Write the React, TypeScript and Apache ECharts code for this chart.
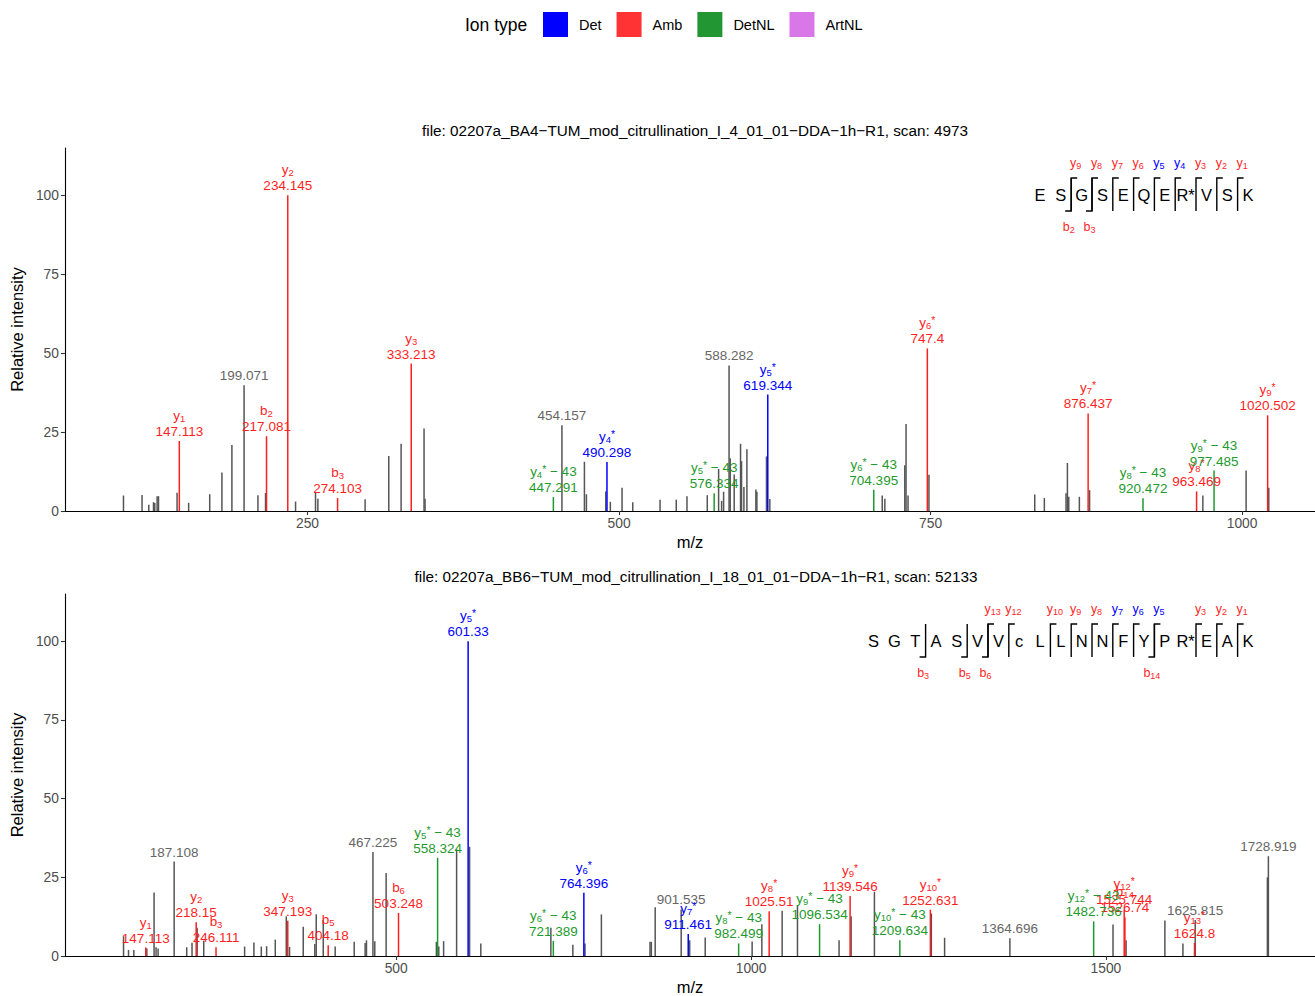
import React, { useEffect, useRef } from "react";
import * as echarts from "echarts";

const FONT = "'Liberation Sans', Arial, Helvetica, sans-serif";

// ---------------- legend / ion types ----------------
const ionTypes = ["Det", "Amb", "DetNL", "ArtNL"];
const ionColors: Record<string, string> = { Det: "#0000FF", Amb: "#FF1F1F", DetNL: "#1E9A2E", ArtNL: "#D977E8" };
const legendColors: Record<string, string> = { Det: "#0000FF", Amb: "#FF3333", DetNL: "#229633", ArtNL: "#D977E8" };
const GRAY_LINE = "#555555";
const GRAY_TEXT = "#666666";

// ---------------- panel 1 ----------------
const topTitle = "file: 02207a_BA4−TUM_mod_citrullination_I_4_01_01−DDA−1h−R1, scan: 4973";
const topXTicks = [250, 500, 750, 1000];
const topIonNames = ["y1", "b2", "y2", "b3", "y3", "y4*−43", "y4*", "y5*−43", "y5*", "y6*−43", "y6*", "y7*", "y8*−43", "y8*", "y9*−43", "y9*"];
const topIonMz = ["147.113", "217.081", "234.145", "274.103", "333.213", "447.291", "490.298", "576.334", "619.344", "704.395", "747.4", "876.437", "920.472", "963.469", "977.485", "1020.502"];
const topIonIntensity = [22.2, 23.7, 100, 4.1, 46.7, 4.4, 15.5, 5.6, 36.9, 6.7, 51.5, 30.9, 4.0, 6.2, 12.8, 30.3];
const topIonType = ["Amb", "Amb", "Amb", "Amb", "Amb", "DetNL", "Det", "DetNL", "Det", "DetNL", "Amb", "Amb", "DetNL", "Amb", "DetNL", "Amb"];
const topLabeledMz = ["199.071", "454.157", "588.282"];
const topLabeledIntensity = [39.8, 27.2, 46.1];
const topOtherMz = [102.3, 117.2, 122.6, 126.4, 127.4, 129.3, 130.4, 145.3, 154.6, 171.5, 181.3, 189.3, 210.2, 216.3, 240.4, 256.4, 258.3, 296.2, 315.2, 325.1, 343.5, 344.3, 472.2, 473.8, 489.3, 493.0, 502.4, 511.0, 532.9, 545.9, 554.5, 570.8, 579.9, 582.3, 583.9, 589.2, 592.4, 597.5, 598.3, 600.2, 602.6, 609.8, 610.6, 618.3, 621.0, 711.2, 713.3, 729.3, 730.3, 731.9, 748.7, 833.6, 841.3, 858.7, 859.8, 860.9, 869.4, 877.6, 968.5, 1003.2, 1021.4];
const topOtherIntensity = [4.9, 5.1, 2.0, 2.8, 2.5, 4.7, 4.7, 5.8, 2.6, 5.3, 12.2, 20.9, 5.0, 5.7, 3.0, 6.0, 3.9, 3.7, 17.4, 21.3, 26.1, 3.9, 15.6, 5.3, 6.2, 2.9, 7.4, 2.8, 3.6, 3.6, 4.7, 5.0, 13.3, 3.2, 6.1, 16.7, 11.6, 21.3, 15.8, 7.6, 19.6, 6.8, 6.1, 17.3, 3.8, 4.9, 3.9, 14.5, 27.6, 4.9, 11.5, 5.2, 4.1, 5.6, 15.2, 4.5, 4.5, 6.6, 4.9, 12.8, 7.4];
const topSequence = ["E", "S", "G", "S", "E", "Q", "E", "R*", "V", "S", "K"];
const topYIons = [9, 8, 7, 6, 5, 4, 3, 2, 1];
const topYIonType = ["Amb", "Amb", "Amb", "Amb", "Det", "Det", "Amb", "Amb", "Amb"];
const topBIons = [2, 3];
const topBIonType = ["Amb", "Amb"];

// ---------------- panel 2 ----------------
const bottomTitle = "file: 02207a_BB6−TUM_mod_citrullination_I_18_01_01−DDA−1h−R1, scan: 52133";
const bottomXTicks = [500, 1000, 1500];
const bottomIonNames = ["y1", "y2", "b3", "y3", "b5", "b6", "y5*−43", "y5*", "y6*−43", "y6*", "y7*", "y8*−43", "y8*", "y9*−43", "y9*", "y10*−43", "y10*", "y12*−43", "y12*", "b14", "y13*"];
const bottomIonMz = ["147.113", "218.15", "246.111", "347.193", "404.18", "503.248", "558.324", "601.33", "721.389", "764.396", "911.461", "982.499", "1025.51", "1096.534", "1139.546", "1209.634", "1252.631", "1482.736", "1525.744", "1526.74", "1624.8"];
const bottomIonIntensity = [2.7, 10.7, 2.8, 11.2, 3.4, 13.7, 31.2, 100, 4.8, 20.1, 7.0, 4.0, 14.2, 10.1, 19.1, 5.0, 14.7, 11.0, 14.8, 12.3, 4.2];
const bottomIonType = ["Amb", "Amb", "Amb", "Amb", "Amb", "Amb", "DetNL", "Det", "DetNL", "Det", "Det", "DetNL", "Amb", "DetNL", "Amb", "DetNL", "Amb", "DetNL", "Amb", "Amb", "Amb"];
const bottomLabeledMz = ["187.108", "467.225", "901.535", "1364.696", "1625.815", "1728.919"];
const bottomLabeledIntensity = [30.0, 33.0, 14.8, 5.6, 11.4, 31.7];
const bottomOtherMz = [115.8, 122.8, 130.3, 148.6, 158.8, 161.6, 164.5, 204.8, 212.3, 219.5, 228.8, 286.4, 299.5, 309.9, 317.4, 329.6, 345.1, 349.7, 369.0, 385.3, 387.3, 397.2, 414.0, 440.8, 456.2, 458.1, 469.8, 485.8, 556.6, 560.0, 566.8, 585.1, 603.4, 619.2, 717.9, 748.9, 766.0, 789.1, 857.6, 859.5, 864.9, 913.5, 935.4, 1001.5, 1015.2, 1043.8, 1065.4, 1124.0, 1141.0, 1173.8, 1254.0, 1272.7, 1510.0, 1528.4, 1583.1, 1608.5, 1727.5];
const bottomOtherIntensity = [6.3, 1.9, 1.9, 2.4, 20.2, 2.8, 2.4, 2.8, 4.2, 9.0, 4.9, 3.0, 4.3, 3.0, 3.1, 5.2, 12.6, 2.9, 9.3, 3.8, 13.3, 11.5, 3.0, 4.5, 4.1, 5.0, 4.7, 26.4, 4.5, 3.0, 4.7, 33.9, 34.7, 4.0, 9.0, 3.6, 4.0, 13.2, 4.5, 4.5, 15.5, 5.0, 5.9, 4.6, 10.1, 14.4, 16.0, 5.0, 12.6, 20.4, 13.5, 5.8, 10.0, 5.0, 11.3, 4.0, 25.0];
const bottomSequence = ["S", "G", "T", "A", "S", "V", "V", "c", "L", "L", "N", "N", "F", "Y", "P", "R*", "E", "A", "K"];
const bottomYIons = [13, 12, 10, 9, 8, 7, 6, 5, 3, 2, 1];
const bottomYIonType = ["Amb", "Amb", "Amb", "Amb", "Amb", "Det", "Det", "Det", "Amb", "Amb", "Amb"];
const bottomBIons = [3, 5, 6, 14];
const bottomBIonType = ["Amb", "Amb", "Amb", "Amb"];

const yTicks = [0, 25, 50, 75, 100];

// ---------------- layout ----------------
const GRID_LEFT = 63;
const GRID_H = 363;
const GRID_TOPS = [148, 594];
const X_RANGES = [
  [55.3, 1058.5],
  [33.2, 1794.6],
];
const PEP_RIGHT = 1248;
const PEP_STEP = 20.8;
const PEP_Y = [195, 641];

function richFor(color: string) {
  return {
    n: { fontSize: 13.5, fontFamily: FONT, lineHeight: 16, fill: color },
    sub: { fontSize: 9.5, fontFamily: FONT, lineHeight: 7, verticalAlign: "bottom", fill: color },
    sup: { fontSize: 10.5, fontFamily: FONT, lineHeight: 8, verticalAlign: "top", fill: color },
  };
}

function ionRich(name: string) {
  const m = name.match(/^([a-z])(\d+)(\*?)(.*)$/);
  if (!m) return `{n|${name}}`;
  let s = `{n|${m[1]}}{sub|${m[2]}}`;
  if (m[3]) s += `{sup|*}`;
  if (m[4]) s += `{n| ${m[4].replace("−", "− ")}}`;
  return s;
}

function peakRenderer(lineColor: string, textColor: string, names: string[] | null, labels: string[] | null) {
  const rich = richFor(textColor);
  return (params: any, api: any) => {
    const x = api.value(0);
    const y = api.value(1);
    const top = api.coord([x, y]);
    const base = api.coord([x, 0]);
    const children: any[] = [
      {
        type: "line",
        shape: { x1: top[0], y1: base[1], x2: top[0], y2: top[1] },
        style: { stroke: lineColor, lineWidth: 1.5 },
      },
    ];
    if (labels) {
      const i = api.value(2);
      const text = names ? ionRich(names[i]) + "\n" + `{n|${labels[i]}}` : `{n|${labels[i]}}`;
      children.push({
        type: "text",
        x: top[0],
        y: top[1] - 1.5,
        z2: 100,
        style: {
          text,
          rich,
          fill: textColor,
          fontSize: 13.5,
          fontFamily: FONT,
          align: "center",
          verticalAlign: "bottom",
        },
      });
    }
    return { type: "group", children };
  };
}

function panelSeries(
  p: number,
  names: string[],
  mzs: string[],
  ints: number[],
  types: string[],
  otherMz: number[],
  otherInt: number[],
  labMz: string[],
  labInt: number[]
) {
  const common = { type: "custom", xAxisIndex: p, yAxisIndex: p, clip: false, silent: true };
  const out: any[] = [];
  out.push({
    ...common,
    name: "other",
    itemStyle: { color: GRAY_LINE },
    data: otherMz.map((m, i) => [m, otherInt[i]]),
    renderItem: peakRenderer(GRAY_LINE, GRAY_TEXT, null, null),
  });
  out.push({
    ...common,
    name: "other labelled",
    itemStyle: { color: GRAY_LINE },
    data: labMz.map((m, i) => [Number(m), labInt[i], i]),
    renderItem: peakRenderer(GRAY_LINE, GRAY_TEXT, null, labMz),
  });
  ionTypes.forEach((t) => {
    const idx = types.map((tt, i) => (tt === t ? i : -1)).filter((i) => i >= 0);
    out.push({
      ...common,
      name: t,
      itemStyle: { color: ionColors[t] },
      data: idx.map((i) => [Number(mzs[i]), ints[i], i]),
      renderItem: peakRenderer(ionColors[t], ionColors[t], names, mzs),
    });
  });
  return out;
}

function peptideGraphics(seq: string[], yIons: number[], yTypes: string[], bIons: number[], bTypes: string[], cy: number) {
  const n = seq.length;
  const lx = (i: number) => PEP_RIGHT - (n - 1 - i) * PEP_STEP;
  const cut = (after: number) => lx(after - 1) + PEP_STEP / 2;
  const els: any[] = [];
  const top = cy - 17;
  const bot = cy + 16;
  const subRich = (color: string) => ({
    n: { fontSize: 12.5, fontFamily: FONT, lineHeight: 14, fill: color },
    sub: { fontSize: 9, fontFamily: FONT, lineHeight: 6, verticalAlign: "bottom", fill: color },
  });
  seq.forEach((aa, i) => {
    els.push({
      type: "text",
      x: lx(i),
      y: cy,
      style: { text: aa, fill: "#000", fontSize: 16.5, fontFamily: FONT, align: "center", verticalAlign: "middle" },
    });
  });
  yIons.forEach((k, j) => {
    const x = cut(n - k);
    const color = ionColors[yTypes[j]];
    els.push({
      type: "polyline",
      shape: { points: [[x, bot], [x, top], [x + 6, top]] },
      style: { stroke: "#000", lineWidth: 1.4, fill: null },
    });
    els.push({
      type: "text",
      x: x + 4.5,
      y: cy - 32,
      style: { text: `{n|y}{sub|${k}}`, rich: subRich(color), fill: color, align: "center", verticalAlign: "middle" },
    });
  });
  bIons.forEach((k, j) => {
    const x = cut(k);
    const color = ionColors[bTypes[j]];
    els.push({
      type: "polyline",
      shape: { points: [[x - 6, bot], [x, bot], [x, top]] },
      style: { stroke: "#000", lineWidth: 1.4, fill: null },
    });
    els.push({
      type: "text",
      x: x - 2.5,
      y: cy + 32,
      style: { text: `{n|b}{sub|${k}}`, rich: subRich(color), fill: color, align: "center", verticalAlign: "middle" },
    });
  });
  return els;
}

export default function App() {
  const ref = useRef<HTMLDivElement>(null);
  useEffect(() => {
    if (!ref.current) return;
    const chart = echarts.init(ref.current, undefined, { renderer: "svg" });
    const xTicks = [topXTicks, bottomXTicks];
    const option: any = {
      animation: false,
      backgroundColor: "#ffffff",
      legend: {
        data: ionTypes.map((t) => ({ name: t, icon: "rect", itemStyle: { color: legendColors[t] } })),
        left: 543,
        top: 12,
        padding: 0,
        itemWidth: 25,
        itemHeight: 25,
        itemGap: 15,
        selectedMode: false,
        textStyle: { fontSize: 14.5, fontFamily: FONT, color: "#000", padding: [0, 0, 0, 6] },
      },
      grid: GRID_TOPS.map((t) => ({ left: GRID_LEFT, right: 0, top: t, height: GRID_H, containLabel: false })),
      xAxis: [0, 1].map((p) => ({
        type: "value",
        gridIndex: p,
        min: X_RANGES[p][0],
        max: X_RANGES[p][1],
        name: "m/z",
        nameLocation: "middle",
        nameGap: 22,
        nameTextStyle: { fontSize: 16.5, fontFamily: FONT, color: "#000" },
        axisLine: { show: true, onZero: false, lineStyle: { color: "#000", width: 1.1 } },
        axisTick: { show: true, length: 4, customValues: xTicks[p], lineStyle: { color: "#333", width: 1.1 } },
        axisLabel: {
          customValues: xTicks[p],
          formatter: (v: number) => String(v),
          margin: 5,
          fontSize: 13.8,
          fontFamily: FONT,
          color: "#4D4D4D",
        },
        splitLine: { show: false },
      })),
      yAxis: [0, 1].map((p) => ({
        type: "value",
        gridIndex: p,
        min: 0,
        max: 115,
        name: "Relative intensity",
        nameLocation: "middle",
        nameGap: 34,
        nameTextStyle: { fontSize: 16.5, fontFamily: FONT, color: "#000" },
        axisLine: { show: true, onZero: false, lineStyle: { color: "#000", width: 1.1 } },
        axisTick: { show: true, length: 4, customValues: yTicks, lineStyle: { color: "#333", width: 1.1 } },
        axisLabel: {
          customValues: yTicks,
          formatter: (v: number) => String(v),
          margin: 6,
          fontSize: 13.8,
          fontFamily: FONT,
          color: "#4D4D4D",
        },
        splitLine: { show: false },
      })),
      graphic: [
        {
          type: "text",
          x: 465,
          y: 25,
          style: { text: "Ion type", fontSize: 17.5, fontFamily: FONT, fill: "#000", align: "left", verticalAlign: "middle" },
        },
        {
          type: "text",
          x: 695,
          y: 130,
          style: { text: topTitle, fontSize: 15.3, fontFamily: FONT, fill: "#000", align: "center", verticalAlign: "middle" },
        },
        {
          type: "text",
          x: 696,
          y: 576,
          style: { text: bottomTitle, fontSize: 15.3, fontFamily: FONT, fill: "#000", align: "center", verticalAlign: "middle" },
        },
        ...peptideGraphics(topSequence, topYIons, topYIonType, topBIons, topBIonType, PEP_Y[0]),
        ...peptideGraphics(bottomSequence, bottomYIons, bottomYIonType, bottomBIons, bottomBIonType, PEP_Y[1]),
      ],
      series: [
        ...panelSeries(0, topIonNames, topIonMz, topIonIntensity, topIonType, topOtherMz, topOtherIntensity, topLabeledMz, topLabeledIntensity),
        ...panelSeries(1, bottomIonNames, bottomIonMz, bottomIonIntensity, bottomIonType, bottomOtherMz, bottomOtherIntensity, bottomLabeledMz, bottomLabeledIntensity),
      ],
    };
    chart.setOption(option);
    return () => chart.dispose();
  }, []);
  return <div ref={ref} style={{ position: "absolute", left: 0, top: 0, width: 1315, height: 996, background: "#fff" }} />;
}
